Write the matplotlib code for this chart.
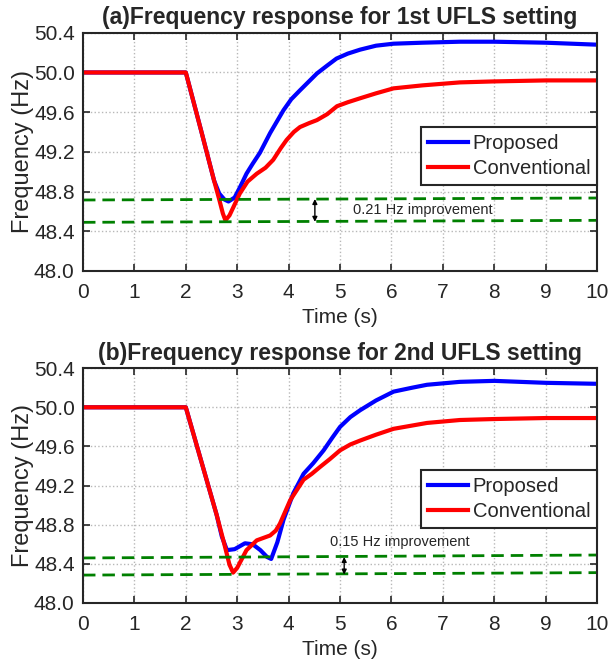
import numpy as np
import matplotlib
matplotlib.use("Agg")
from matplotlib import pyplot as plt

plt.rcParams['font.family'] = ['Liberation Sans', 'DejaVu Sans']

# panel (a): 1st UFLS setting
t_a = [0, 2.0, 2.3, 2.55, 2.65, 2.75, 2.83, 2.95, 3.05, 3.18, 3.3, 3.44, 3.64, 3.9,
       4.05, 4.22, 4.55, 4.75, 4.93, 5.15, 5.39, 5.7, 6.04, 6.6, 7.33, 8.0, 9.0, 10.0]
prop_a = [50.0, 50.0, 49.41, 48.91, 48.78, 48.72, 48.70, 48.74, 48.84, 48.98, 49.08,
          49.19, 49.39, 49.62, 49.73, 49.82, 49.99, 50.07, 50.14, 50.19, 50.23, 50.27,
          50.29, 50.30, 50.31, 50.31, 50.30, 50.28]
t_a_c = [0, 2.0, 2.3, 2.55, 2.65, 2.72, 2.77, 2.85, 2.95, 3.05, 3.2, 3.38, 3.55, 3.7,
         3.85, 3.96, 4.1, 4.22, 4.4, 4.55, 4.75, 4.94, 5.15, 5.39, 5.7, 6.04, 6.6,
         7.33, 8.0, 9.0, 10.0]
conv_a = [50.0, 50.0, 49.41, 48.91, 48.72, 48.58, 48.51, 48.56, 48.67, 48.78, 48.90,
          48.98, 49.04, 49.12, 49.24, 49.32, 49.40, 49.45, 49.49, 49.52, 49.58, 49.66,
          49.70, 49.74, 49.79, 49.84, 49.87, 49.90, 49.91, 49.92, 49.92]

# panel (b): 2nd UFLS setting
t_b = [0, 2.0, 2.3, 2.6, 2.7, 2.8, 2.95, 3.15, 3.3, 3.45, 3.58, 3.66, 3.78, 3.9,
       4.09, 4.29, 4.48, 4.68, 4.85, 5.0, 5.2, 5.39, 5.7, 6.04, 6.4, 6.69, 7.33,
       8.0, 9.0, 10.0]
prop_b = [50.0, 50.0, 49.45, 48.90, 48.68, 48.54, 48.55, 48.61, 48.60, 48.54, 48.47,
          48.45, 48.62, 48.85, 49.12, 49.32, 49.43, 49.56, 49.69, 49.80, 49.90, 49.97,
          50.07, 50.16, 50.20, 50.23, 50.26, 50.27, 50.25, 50.24]
t_b_c = [0, 2.0, 2.3, 2.6, 2.75, 2.85, 2.92, 3.0, 3.1, 3.18, 3.38, 3.64, 3.75, 3.83,
         4.03, 4.29, 4.45, 4.61, 4.8, 5.0, 5.2, 5.39, 5.7, 6.04, 6.69, 7.33, 8.0,
         9.0, 10.0]
conv_b = [50.0, 50.0, 49.45, 48.90, 48.60, 48.39, 48.31, 48.36, 48.46, 48.54, 48.64,
          48.69, 48.74, 48.81, 49.05, 49.26, 49.32, 49.39, 49.47, 49.56, 49.62, 49.66,
          49.72, 49.78, 49.84, 49.87, 49.88, 49.89, 49.89]

# dashed reference lines (start, end level), arrow x, label
ref_a = [(48.715, 48.735), (48.49, 48.51)]
ref_b = [(48.46, 48.49), (48.285, 48.31)]
arrow_x = [4.51, 5.08]
label_pos = [(5.26, 48.61), (4.8, 48.62)]
labels = ['0.21 Hz improvement', '0.15 Hz improvement']
titles = ['(a)Frequency response for 1st UFLS setting',
          '(b)Frequency response for 2nd UFLS setting']
legend_top = [0.605, 0.566]

fig = plt.figure(figsize=(6.10, 6.69), dpi=100)
ax_a = fig.add_axes([0.136, 0.595, 0.843, 0.356])
ax_b = fig.add_axes([0.136, 0.0987, 0.843, 0.351])

panels = [
    (ax_a, t_a, prop_a, t_a_c, conv_a, ref_a),
    (ax_b, t_b, prop_b, t_b_c, conv_b, ref_b),
]

dark = '#262626'
for i, (ax, tp, fp, tc, fc, refs) in enumerate(panels):
    ax.plot(tp, fp, color='#0000ff', lw=3, label='Proposed', solid_joinstyle='round')
    ax.plot(tc, fc, color='#ff0000', lw=3, label='Conventional', solid_joinstyle='round')
    for y0, y1 in refs:
        ax.plot([0, 10], [y0, y1], color='#008000', lw=2, ls=(0, (4.5, 2.5)))
    ax.annotate('', xy=(arrow_x[i], refs[1][0] + 0.005),
                xytext=(arrow_x[i], refs[0][0] + 0.01),
                arrowprops=dict(arrowstyle='<|-|>', color='black', lw=1,
                                mutation_scale=7, shrinkA=0, shrinkB=0))
    ax.text(label_pos[i][0], label_pos[i][1], labels[i], fontsize=10.5,
            va='center', ha='left', color=dark)

    ax.set_xlim(0, 10)
    ax.set_ylim(48.0, 50.4)
    ax.set_xticks(np.arange(0, 11, 1))
    ax.set_yticks(np.arange(48.0, 50.41, 0.4))
    ax.set_yticklabels(['%.1f' % v for v in np.arange(48.0, 50.41, 0.4)])
    ax.tick_params(direction='in', labelsize=15, length=5, width=1.2,
                   top=True, right=True, colors=dark)
    ax.tick_params(axis='x', pad=9)
    ax.tick_params(axis='y', pad=6)
    ax.grid(True, ls=':', color='#b8b8b8', lw=1)
    for s in ax.spines.values():
        s.set_linewidth(1.5)
        s.set_color(dark)
    ax.set_xlabel('Time (s)', fontsize=15, labelpad=4, color=dark)
    ax.set_ylabel('Frequency (Hz)', fontsize=17, labelpad=0, color=dark)
    ax.set_title(titles[i], fontsize=16.5, fontweight='bold', pad=6, color=dark)
    leg = ax.legend(loc='upper right', bbox_to_anchor=(1.0, legend_top[i]),
                    fontsize=14.5, frameon=True, fancybox=False, handlelength=2.0,
                    borderpad=0.35, labelspacing=0.3, handletextpad=0.2,
                    borderaxespad=0.0)
    leg.get_frame().set_edgecolor(dark)
    leg.get_frame().set_linewidth(1.5)
    leg.get_frame().set_alpha(1)
    for txt in leg.get_texts():
        txt.set_color(dark)

fig.savefig('out.png', dpi=100)
